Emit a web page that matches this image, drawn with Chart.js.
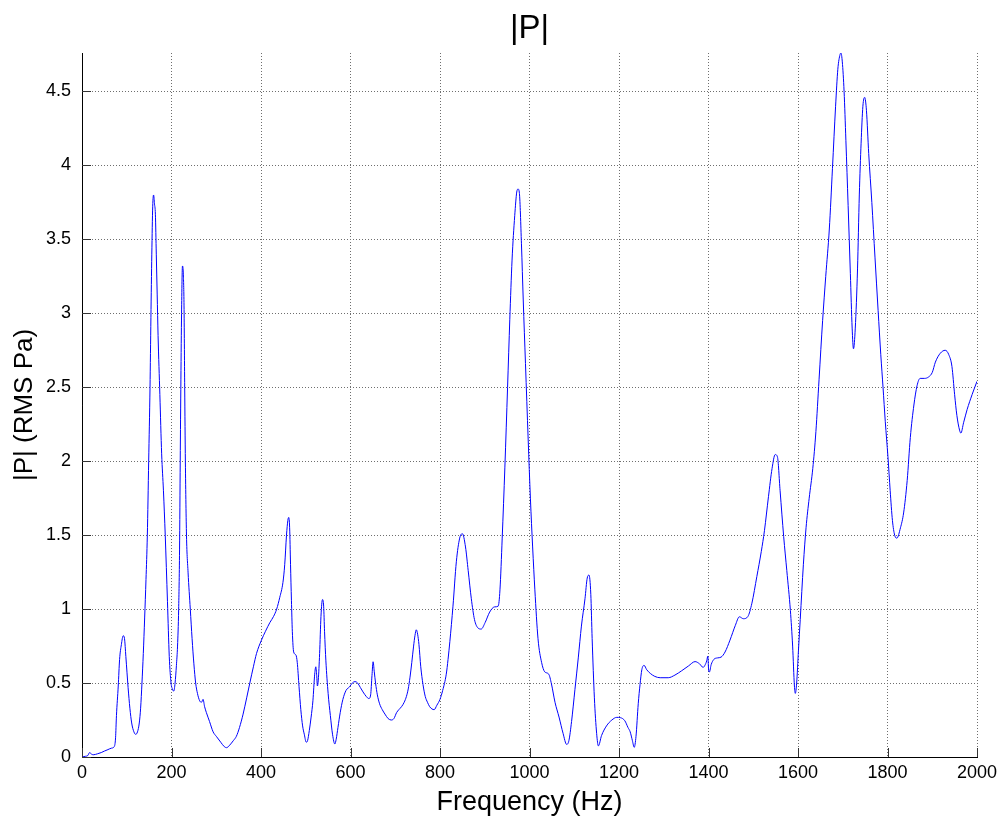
<!DOCTYPE html>
<html>
<head>
<meta charset="utf-8">
<title>|P|</title>
<script src="https://cdn.jsdelivr.net/npm/chart.js@4/dist/chart.umd.min.js"></script>
<style>
  html, body { margin: 0; padding: 0; background: #ffffff; }
  #wrap { width: 1006px; height: 826px; }
</style>
</head>
<body>
<div id="wrap"><canvas id="c" width="1006" height="826"></canvas></div>
<script>
// Frequency response |P| (RMS Pa) versus frequency (Hz)
const freqHz = [
  0, 8, 13, 17, 21, 25, 35, 43, 50, 58, 66, 72, 75, 77, 81, 84, 88, 92, 95, 98,
  103, 107, 111, 116, 120, 124, 128, 131, 134, 137, 140, 143, 146, 149, 152, 154, 156, 158, 160, 162,
  164, 166, 168, 170, 174, 178, 182, 186, 191, 195, 199, 202, 205, 208, 211, 213.5, 216, 218, 219.5, 221,
  222.5, 224.5, 226.5, 228, 229.5, 231, 233.5, 237, 242, 246, 250, 254, 258, 263, 267, 270.5, 274, 278, 285, 293,
  300, 310, 318, 323, 330, 338, 345, 352, 360, 368, 375, 383, 390, 401, 410, 420, 428, 435, 442, 449,
  453, 457, 460, 462, 464, 466, 468, 470, 473, 478, 481, 485, 489, 493, 497, 501, 504, 508, 512, 516,
  520, 522.5, 524.5, 526, 528, 531, 534, 537.5, 540, 542, 545, 550, 555, 560, 565, 568, 572, 577, 583, 590,
  598, 604, 610, 616, 622, 628, 635, 641, 645, 648, 650.5, 653, 656, 660, 665, 671, 677, 684, 691, 697,
  703, 708, 714, 720, 725, 729, 733, 737, 741, 744, 747, 750, 753, 757, 762, 767, 772, 777, 782, 787,
  793, 800, 806, 814, 818, 822, 829, 836.5, 844, 850, 857, 863, 870, 877, 885, 892, 901, 911, 922, 930,
  934, 939, 945, 951, 956, 961, 967, 971.5, 974.5, 977.5, 982, 986, 991, 997, 1002, 1007, 1012, 1019, 1027, 1034,
  1043, 1049, 1057, 1066, 1075, 1083, 1088, 1094, 1101.5, 1109, 1116, 1124, 1129, 1133, 1137, 1140, 1145, 1150, 1154, 1161,
  1172, 1184, 1195, 1203, 1213, 1220, 1225, 1230, 1234, 1238, 1243, 1247, 1251, 1256, 1262, 1270, 1280, 1292, 1310, 1325,
  1340, 1355, 1370, 1380, 1388, 1392, 1396, 1398.5, 1400.5, 1402, 1406, 1412, 1420, 1428, 1437, 1448, 1460, 1469, 1478, 1488,
  1497, 1508, 1518, 1525, 1534, 1542, 1549, 1554, 1560, 1568, 1575, 1583, 1588, 1592, 1594, 1597, 1601, 1605, 1612, 1618,
  1625, 1633, 1640, 1647, 1655, 1662, 1670, 1677, 1684, 1689, 1694, 1696, 1699, 1703, 1707, 1712, 1717, 1721, 1724, 1728,
  1733, 1737, 1741, 1745, 1749, 1753, 1758, 1765, 1772, 1779, 1785, 1790, 1795, 1801, 1806, 1811, 1816, 1821, 1829, 1836,
  1844, 1851, 1859, 1866, 1873, 1883, 1892, 1900, 1907, 1918, 1929, 1937, 1944, 1950, 1955, 1961, 1964, 1970, 1978, 1989, 2000
];

const pressureRms = [
  0.0, 0.005, 0.01, 0.03, 0.02, 0.015, 0.022, 0.03, 0.04, 0.05, 0.06, 0.07, 0.13, 0.28, 0.48, 0.66, 0.76, 0.82, 0.80, 0.68,
  0.47, 0.33, 0.23, 0.17, 0.153, 0.17, 0.23, 0.33, 0.50, 0.70, 0.94, 1.2, 1.5, 2.0, 2.5, 2.97, 3.4, 3.72, 3.80, 3.74,
  3.67, 3.40, 3.13, 2.85, 2.45, 2.05, 1.8, 1.5, 1.05, 0.68, 0.5, 0.46, 0.445, 0.5, 0.62, 0.75, 1.0, 1.4, 2.0, 2.55,
  3.0, 3.32, 3.26, 3.05, 2.5, 2.0, 1.5, 1.25, 1.0, 0.8, 0.63, 0.5, 0.43, 0.38, 0.37, 0.39, 0.34, 0.30, 0.24, 0.17,
  0.14, 0.1, 0.07, 0.063, 0.08, 0.11, 0.14, 0.2, 0.29, 0.40, 0.50, 0.61, 0.70, 0.79, 0.85, 0.91, 0.95, 1.0, 1.08, 1.18,
  1.30, 1.50, 1.60, 1.62, 1.55, 1.30, 1.06, 0.85, 0.71, 0.69, 0.64, 0.475, 0.32, 0.21, 0.15, 0.10, 0.11, 0.18, 0.27, 0.38,
  0.56, 0.61, 0.55, 0.48, 0.52, 0.7, 0.95, 1.065, 1.02, 0.85, 0.65, 0.43, 0.28, 0.15, 0.088, 0.12, 0.2, 0.3, 0.39, 0.45,
  0.475, 0.5, 0.51, 0.5, 0.47, 0.44, 0.41, 0.395, 0.42, 0.55, 0.644, 0.58, 0.50, 0.42, 0.36, 0.32, 0.29, 0.26, 0.25, 0.26,
  0.3, 0.32, 0.34, 0.37, 0.41, 0.46, 0.54, 0.64, 0.75, 0.82, 0.86, 0.83, 0.76, 0.61, 0.49, 0.41, 0.37, 0.34, 0.325, 0.32,
  0.35, 0.39, 0.45, 0.56, 0.66, 0.78, 1.02, 1.32, 1.48, 1.51, 1.42, 1.26, 1.07, 0.93, 0.872, 0.865, 0.91, 0.98, 1.015, 1.02,
  1.13, 1.48, 1.96, 2.5, 2.96, 3.36, 3.66, 3.82, 3.84, 3.81, 3.47, 3.09, 2.66, 2.15, 1.75, 1.42, 1.13, 0.80, 0.64, 0.576,
  0.56, 0.495, 0.37, 0.27, 0.16, 0.085, 0.11, 0.24, 0.455, 0.67, 0.885, 1.07, 1.21, 1.23, 1.10, 0.80, 0.40, 0.16, 0.075, 0.145,
  0.21, 0.25, 0.268, 0.266, 0.245, 0.2, 0.17, 0.11, 0.065, 0.14, 0.36, 0.49, 0.59, 0.62, 0.59, 0.565, 0.545, 0.536, 0.536, 0.554,
  0.583, 0.615, 0.645, 0.63, 0.606, 0.62, 0.65, 0.682, 0.58, 0.575, 0.625, 0.66, 0.67, 0.675, 0.71, 0.79, 0.89, 0.948, 0.935, 0.95,
  1.04, 1.22, 1.39, 1.53, 1.76, 1.95, 2.045, 2.03, 1.80, 1.49, 1.26, 0.99, 0.75, 0.48, 0.43, 0.5, 0.72, 0.93, 1.3, 1.55,
  1.75, 1.95, 2.2, 2.55, 2.95, 3.25, 3.57, 3.98, 4.4, 4.65, 4.75, 4.76, 4.70, 4.5, 4.17, 3.73, 3.27, 2.9, 2.76, 2.9,
  3.3, 3.8, 4.15, 4.4, 4.46, 4.37, 4.08, 3.75, 3.38, 3.02, 2.72, 2.5, 2.27, 2.03, 1.8, 1.6, 1.5, 1.48, 1.55, 1.65,
  1.87, 2.16, 2.38, 2.51, 2.56, 2.56, 2.57, 2.6, 2.67, 2.73, 2.75, 2.72, 2.64, 2.45, 2.31, 2.21, 2.19, 2.26, 2.35, 2.45, 2.54
];

const xTickValues = [0, 200, 400, 600, 800, 1000, 1200, 1400, 1600, 1800, 2000];
const yTickValues = [0, 0.5, 1, 1.5, 2, 2.5, 3, 3.5, 4, 4.5];

const chartTitle = '|P|';
const xAxisTitle = 'Frequency (Hz)';
const yAxisTitle = '|P| (RMS Pa)';

const FONT = '"Liberation Sans", Arial, Helvetica, sans-serif';

const points = freqHz.map((f, i) => ({ x: f, y: pressureRms[i] }));

// Short tick marks drawn on the inside of the left and bottom axes
const innerTicks = {
  id: 'innerTicks',
  afterDraw(chart) {
    const { ctx, chartArea, scales } = chart;
    const len = 9;
    ctx.save();
    ctx.strokeStyle = '#333333';
    ctx.lineWidth = 1;
    ctx.beginPath();
    scales.x.ticks.forEach(t => {
      const px = Math.round(scales.x.getPixelForValue(t.value)) + 0.5;
      ctx.moveTo(px, chartArea.bottom);
      ctx.lineTo(px, chartArea.bottom - len);
    });
    scales.y.ticks.forEach(t => {
      const py = Math.round(scales.y.getPixelForValue(t.value)) + 0.5;
      ctx.moveTo(chartArea.left, py);
      ctx.lineTo(chartArea.left + len, py);
    });
    ctx.stroke();
    ctx.restore();
  }
};

// Solid axis lines on the left and bottom edges
const axisLines = {
  id: 'axisLines',
  afterDatasetsDraw(chart) {
    const { ctx, chartArea } = chart;
    ctx.save();
    ctx.strokeStyle = '#000000';
    ctx.lineWidth = 1;
    ctx.setLineDash([]);
    ctx.beginPath();
    ctx.moveTo(Math.round(chartArea.left) + 0.5, chartArea.top);
    ctx.lineTo(Math.round(chartArea.left) + 0.5, Math.round(chartArea.bottom) + 0.5);
    ctx.lineTo(chartArea.right + 1, Math.round(chartArea.bottom) + 0.5);
    ctx.stroke();
    ctx.restore();
  }
};

new Chart(document.getElementById('c'), {
  type: 'line',
  data: {
    datasets: [{
      data: points,
      borderColor: '#0000ff',
      borderWidth: 1,
      pointRadius: 0,
      fill: false,
      cubicInterpolationMode: 'monotone'
    }]
  },
  options: {
    responsive: false,
    animation: false,
    devicePixelRatio: 1,
    layout: { padding: { left: 0, right: 29, top: 0, bottom: 0 } },
    plugins: {
      legend: { display: false },
      tooltip: { enabled: false },
      title: {
        display: true,
        fullSize: false,
        text: chartTitle,
        color: '#000000',
        font: { family: FONT, size: 33, weight: 'normal' },
        padding: { top: 9, bottom: 4.4 }
      }
    },
    scales: {
      x: {
        type: 'linear',
        min: 0,
        max: 2000,
        afterBuildTicks: s => { s.ticks = xTickValues.map(v => ({ value: v })); },
        afterFit: s => { s.height = 69; },
        ticks: {
          color: '#000000',
          font: { family: FONT, size: 18 },
          padding: 5,
          maxRotation: 0,
          autoSkip: false,
          callback: v => String(v)
        },
        grid: {
          drawTicks: false,
          color: '#6e6e6e',
          lineWidth: 1
        },
        border: { display: true, color: '#000000', width: 1, dash: [1, 2] },
        title: {
          display: true,
          text: xAxisTitle,
          color: '#000000',
          font: { family: FONT, size: 27 },
          padding: { top: 0, bottom: 7 }
        }
      },
      y: {
        type: 'linear',
        min: 0,
        max: Math.max(...pressureRms),
        afterBuildTicks: s => { s.ticks = yTickValues.map(v => ({ value: v })); },
        afterFit: s => { s.width = 82; },
        ticks: {
          color: '#000000',
          font: { family: FONT, size: 18 },
          padding: 11,
          autoSkip: false,
          callback: v => String(v)
        },
        grid: {
          drawTicks: false,
          color: '#6e6e6e',
          lineWidth: 1
        },
        border: { display: true, color: '#000000', width: 1, dash: [1, 2] },
        title: {
          display: true,
          text: yAxisTitle,
          color: '#000000',
          font: { family: FONT, size: 26 },
          padding: { top: 9, bottom: 0 }
        }
      }
    }
  },
  plugins: [innerTicks, axisLines]
});
</script>
</body>
</html>
